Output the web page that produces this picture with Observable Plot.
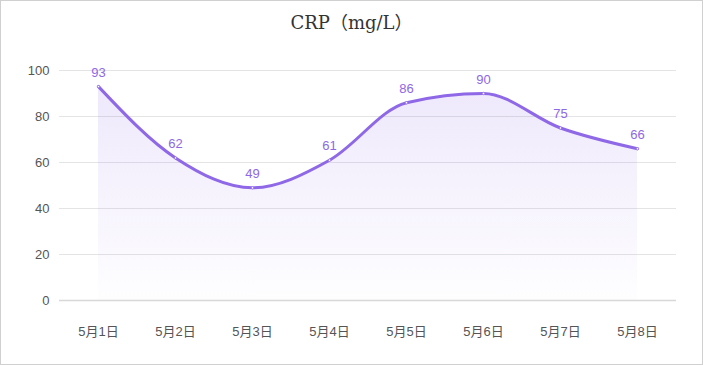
<!DOCTYPE html>
<html><head><meta charset="utf-8">
<script src="https://cdn.jsdelivr.net/npm/d3@7"></script>
<script src="https://cdn.jsdelivr.net/npm/@observablehq/plot@0.6"></script>
<style>
html,body{margin:0;padding:0;background:#fff;}
#wrap{width:701px;height:363px;border:1px solid #d0d0d0;position:relative;overflow:hidden;}
#title{position:absolute;left:0;top:7px;width:701px;text-align:center;font-family:"DejaVu Serif","Noto Sans CJK SC",serif;font-size:18px;color:#333;}
#chart{position:absolute;left:0;top:44px;}
</style></head>
<body><div id="wrap"><div id="title">CRP（mg/L）</div><div id="chart"></div></div>
<script>
const dates = ["5月1日","5月2日","5月3日","5月4日","5月5日","5月6日","5月7日","5月8日"];
const crp = [93, 62, 49, 61, 86, 90, 75, 66];
const yTicks = [0, 20, 40, 60, 80, 100];

const data = dates.map((d, i) => ({date: d, value: crp[i]}));
const purple = "#8e68e6";

const chart = Plot.plot({
  width: 701, height: 319,
  marginLeft: 58, marginRight: 26, marginTop: 25, marginBottom: 64,
  x: {type: "point", domain: dates, padding: 0.5, label: null},
  y: {domain: [0, 100], label: null},
  style: {fontFamily: "'Liberation Sans','Noto Sans CJK SC',sans-serif", fontSize: "13px", color: "#555"},
  marks: [
    () => {
      const svg = d3.create("svg:defs");
      const g = svg.append("linearGradient").attr("id", "fillgrad").attr("x1", 0).attr("y1", 0).attr("x2", 0).attr("y2", 1);
      g.append("stop").attr("offset", "0%").attr("stop-color", "#8e68e6").attr("stop-opacity", 0.15);
      g.append("stop").attr("offset", "100%").attr("stop-color", "#8e68e6").attr("stop-opacity", 0.01);
      return svg.node();
    },
    Plot.gridY(yTicks, {stroke: "#e4e4e4", strokeOpacity: 1}),
    Plot.ruleY([0], {stroke: "#d8d8d8", strokeWidth: 1.5}),
    Plot.axisY(yTicks, {tickSize: 0, tickPadding: 10, fill: "#555", fontSize: 13}),
    Plot.axisX({tickSize: 0, tickPadding: 26, fill: "#555", fontSize: 13}),
    Plot.areaY(data, {x: "date", y: "value", curve: "monotone-x", fill: "url(#fillgrad)"}),
    Plot.lineY(data, {x: "date", y: "value", curve: "monotone-x", stroke: purple, strokeWidth: 3}),
    Plot.dot(data, {x: "date", y: "value", r: 1.2, fill: "#fff", stroke: purple, strokeWidth: 0.8}),
    Plot.text(data, {x: "date", y: "value", text: d => String(d.value), dy: -14, fill: purple, fontSize: 13})
  ]
});
document.getElementById("chart").appendChild(chart);
</script></body></html>
